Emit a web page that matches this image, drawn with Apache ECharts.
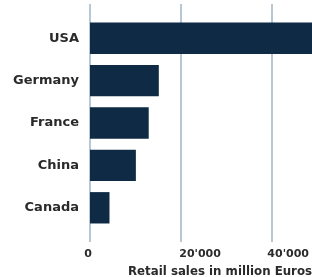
<!DOCTYPE html>
<html><head><meta charset="utf-8">
<script src="https://cdn.jsdelivr.net/npm/echarts@6/dist/echarts.min.js"></script>
<style>html,body{margin:0;padding:0;background:#fff}#c{width:312px;height:277px}</style>
</head><body><div id="c"></div>
<script>
var categories = ['USA', 'Germany', 'France', 'China', 'Canada'];
var sales = [50000, 15000, 12800, 10000, 4250];
var tickValues = [0, 20000, 40000];
var tickLabels = ['0', "20'000", "40'000"];
var axisTitle = 'Retail sales in million Euros';

var FONT = 'DejaVu Sans';
var chart = echarts.init(document.getElementById('c'));
chart.setOption({
  animation: false,
  title: {
    text: axisTitle, left: 123, top: 261,
    textStyle: {fontFamily: FONT, fontSize: 11.8, fontWeight: 'bold', color: '#2a2a2a'}
  },
  grid: [
    {left: 90, right: 0, top: 17, bottom: 48},
    {left: 90, right: 0, top: 4, bottom: 35}
  ],
  xAxis: [
    {gridIndex: 0, type: 'value', min: 0, max: 48400, interval: 20000, show: false},
    {gridIndex: 1, type: 'value', min: 0, max: 48400, interval: 20000,
     axisLine: {show: false}, axisTick: {show: false},
     splitLine: {show: true, showMaxLine: false, lineStyle: {color: '#9fb4c6', width: 1.5}},
     axisLabel: {
       margin: 7, showMaxLabel: false,
       formatter: function (v) {
         var i = tickValues.indexOf(v);
         if (i < 0) return '';
         return '{t' + i + '|' + tickLabels[i] + '}';
       },
       rich: {
         t0: {fontFamily: FONT, fontSize: 11, fontWeight: 'bold', color: '#2a2a2a', padding: [0, 4, 0, 0]},
         t1: {fontFamily: FONT, fontSize: 11, fontWeight: 'bold', color: '#2a2a2a', padding: [0, 0, 0, 38]},
         t2: {fontFamily: FONT, fontSize: 11, fontWeight: 'bold', color: '#2a2a2a', padding: [0, 0, 0, 32]}
       }
     }}
  ],
  yAxis: [
    {gridIndex: 0, type: 'category', data: categories, inverse: true,
     axisLine: {show: false}, axisTick: {show: false}, splitLine: {show: false},
     axisLabel: {margin: 11, fontFamily: FONT, fontSize: 13, fontWeight: 'bold', color: '#2a2a2a'}},
    {gridIndex: 1, type: 'value', show: false}
  ],
  series: [
    {type: 'bar', xAxisIndex: 0, yAxisIndex: 0, data: sales, barCategoryGap: '26%',
     itemStyle: {color: '#0e2a44'}, z: 3}
  ]
});
</script></body></html>
